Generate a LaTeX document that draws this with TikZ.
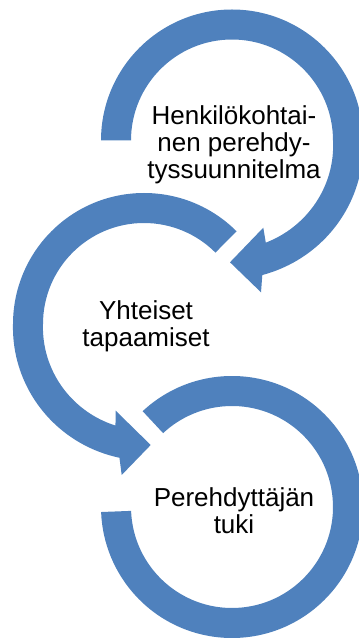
\documentclass[tikz,border=0pt]{standalone}
\usepackage{fontspec}
\setmainfont{Liberation Sans}
\usetikzlibrary{calc}
\definecolor{arrowblue}{RGB}{79,129,189}
\begin{document}
\begin{tikzpicture}[x=1pt,y=1pt,
  band/.style={fill=arrowblue},
  label/.style={font=\fontsize{26}{27}\selectfont, align=center, inner sep=0pt, anchor=base, text=black}]
\useasboundingbox (0,0) rectangle (359,638);
\clip (0,0) rectangle (359,638);
% centres
\coordinate (C1) at (232,497.5);
\coordinate (C2) at (144,314);
\coordinate (C3) at (232,131);
% arrow 1 (clockwise, from left over the top, head at bottom pointing left)
\fill[band] ($(C1)+(180:131)$) arc[start angle=180,end angle=0,radius=131]
  -- plot[domain=0:-77.3,samples=40] ({232+(131-6.9*(\x)/77.3)*cos(\x)},{497.5+(131-6.9*(\x)/77.3)*sin(\x)})
  -- (261,345.7) -- (230,375.7) -- (263.3,410.3)
  -- plot[domain=-71.7:0,samples=40] ({232+(101-6.6*(\x)/71.7)*cos(\x)},{497.5+(101-6.6*(\x)/71.7)*sin(\x)})
  arc[start angle=0,end angle=180,radius=101] -- cycle;
% arrow 2 (counter-clockwise, from upper right over the left, head at bottom pointing right)
\fill[band] ($(C2)+(45:131)$) arc[start angle=45,end angle=180,radius=131]
  -- plot[domain=180:259.6,samples=40] ({144+(131+5*(\x-180)/79.6)*cos(\x)},{314+(131+5*(\x-180)/79.6)*sin(\x)})
  -- (121.7,163) -- (150.7,193) -- (115.7,227.3)
  -- plot[domain=254.3:180,samples=40] ({144+(101+4.5*(\x-180)/74.3)*cos(\x)},{314+(101+4.5*(\x-180)/74.3)*sin(\x)})
  arc[start angle=180,end angle=45,radius=101] -- cycle;
% circle 3 (no head)
\fill[band] ($(C3)+(133:131)$) arc[start angle=133,end angle=-177.8,radius=131]
  -- ($(C3)+(-177.8:101)$) arc[start angle=-177.8,end angle=133,radius=101] -- cycle;
% labels (base anchor = baseline of the last line)
\node[label] (t1) at (234,459.7) {Henkilökohtai-\\nen perehdy-\\tyssuunnitelma};
\node[label] (t2) at (146,291.3) {Yhteiset\\tapaamiset};
\node[label] (t3) at (234,104.7) {Perehdyttäjän\\tuki};
\end{tikzpicture}
\end{document}
